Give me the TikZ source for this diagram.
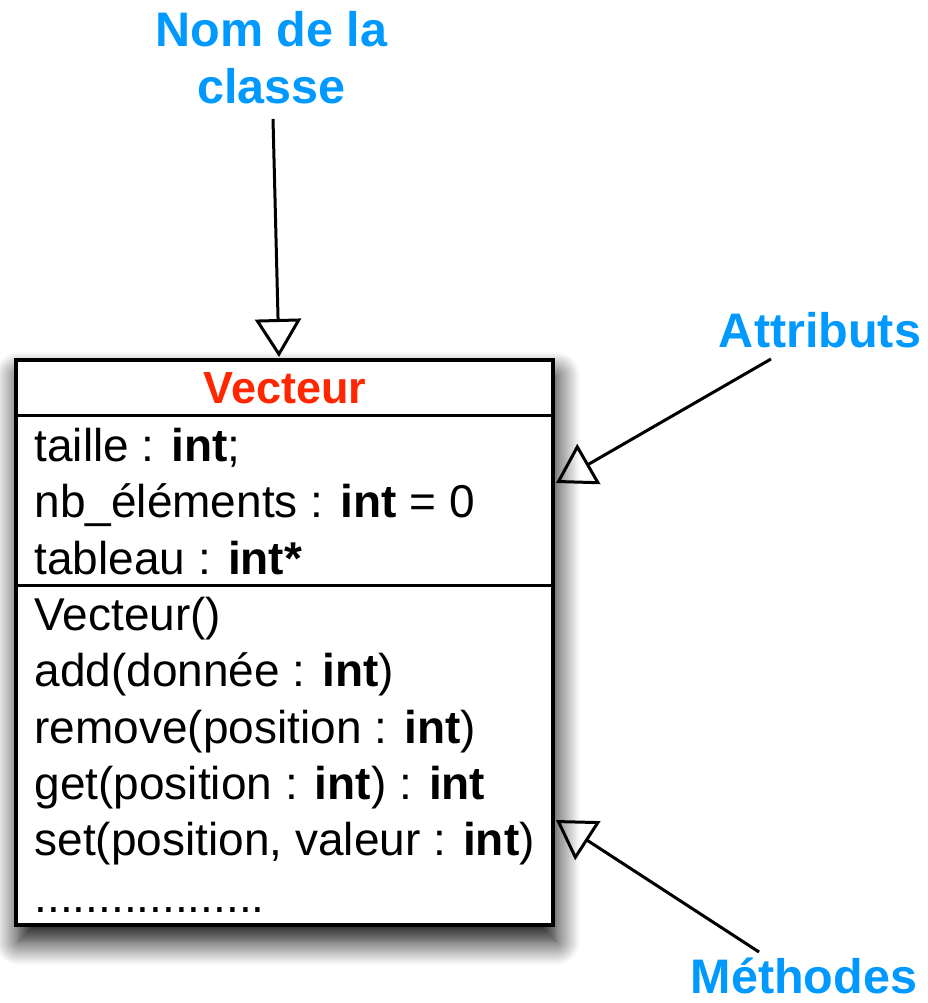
\documentclass[tikz,border=0pt]{standalone}
\usepackage{fontspec}
\setmainfont{Liberation Sans}
\usetikzlibrary{arrows.meta,shadows.blur}
\definecolor{labelblue}{RGB}{0,153,255}
\definecolor{classred}{RGB}{255,38,0}
\begin{document}
\begin{tikzpicture}[x=1pt,y=-1pt,line width=3pt]
        \tikzstyle{label}=[font=\fontsize{48.5}{56}\selectfont\bfseries,text=labelblue,inner sep=0pt,anchor=base]
        \tikzstyle{member}=[font=\fontsize{46}{56}\selectfont,inner sep=0pt,anchor=base west]
        \tikzstyle{classbox}=[draw=black,line width=3.5pt,fill=white,rectangle,minimum width=537pt,minimum height=565pt,inner sep=0pt,
          blur shadow={shadow xshift=3pt,shadow yshift=-16pt,shadow blur radius=24pt,shadow blur steps=14,shadow opacity=100}]
        \tikzstyle{pointer}=[draw,line width=3pt,-{Triangle[open,length=38pt,width=46pt,line width=3pt]}]
        \useasboundingbox (0,0) rectangle (927,1003);
       \begin{scope}
         % the class
         \node [classbox] (box) at (284.5,642.5) {};
         \draw (box.west |- 0,415) -- (box.east |- 0,415);
         \draw (box.west |- 0,585) -- (box.east |- 0,585);
         \node [member,font=\fontsize{45}{56}\selectfont\bfseries,text=classred,anchor=base] (name) at (285,403) {Vecteur};
         \node [member] (a1) at (33,461) {taille : \textbf{int};};
         \node [member] (a2) at (33,517) {nb\_éléments : \textbf{int} = 0};
         \node [member] (a3) at (33,574) {tableau : \textbf{int*}};
         \node [member] (m1) at (33,630) {Vecteur()};
         \node [member] (m2) at (33,686) {add(donnée : \textbf{int})};
         \node [member] (m3) at (33,743) {remove(position : \textbf{int})};
         \node [member] (m4) at (33,799) {get(position : \textbf{int}) : \textbf{int}};
         \node [member] (m5) at (33,855) {set(position, valeur : \textbf{int})};
         \node [member] (m6) at (33,912) {..................};
        \end{scope}
       \begin{scope}
         % the labels
         \node [label] (nom) at (271.5,47) {Nom de la};
         \node [label] (classe) at (271.5,104) {classe};
         \node [label] (attr) at (820,347) {Attributs};
         \node [label] (meth) at (804,993) {Méthodes};
         \coordinate (nomfoot) at (273,119);
         \coordinate (attrfoot) at (771,359);
         \coordinate (methfoot) at (759,952);
         \coordinate (nomtip) at (279,357);
         \coordinate (attrtip) at (556,483);
         \coordinate (methtip) at (556,820);
         \path[pointer] (nomfoot) -- (nomtip);
         \path[pointer] (attrfoot) -- (attrtip);
         \path[pointer] (methfoot) -- (methtip);
        \end{scope}
      \end{tikzpicture}
\end{document}
